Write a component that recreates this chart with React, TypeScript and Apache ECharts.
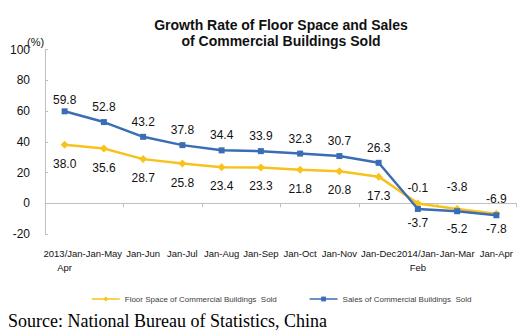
import React, { useEffect, useRef } from "react";
import * as echarts from "echarts";

const categories = [
  "2013/Jan-\nApr",
  "Jan-May",
  "Jan-Jun",
  "Jan-Jul",
  "Jan-Aug",
  "Jan-Sep",
  "Jan-Oct",
  "Jan-Nov",
  "Jan-Dec",
  "2014/Jan-\nFeb",
  "Jan-Mar",
  "Jan-Apr",
];
const floorSpace = [38.0, 35.6, 28.7, 25.8, 23.4, 23.3, 21.8, 20.8, 17.3, -0.1, -3.8, -6.9];
const sales = [59.8, 52.8, 43.2, 37.8, 34.4, 33.9, 32.3, 30.7, 26.3, -3.7, -5.2, -7.8];
const yTicks = { min: -20, max: 100, interval: 20 };
const seriesNames = [
  "Floor Space of Commercial Buildings  Sold",
  "Sales of Commercial Buildings  Sold",
];
const titleText = "Growth Rate of Floor Space and Sales\nof Commercial Buildings Sold";
const sourceText = "Source: National Bureau of Statistics, China";

const YELLOW = "#F8C21C";
const BLUE = "#3A6DB5";
const labelFont = "Arial, 'Liberation Sans', sans-serif";

export default function App() {
  const ref = useRef<HTMLDivElement>(null);
  useEffect(() => {
    document.body.style.margin = "0";
    if (!ref.current) return;
    const chart = echarts.init(ref.current, undefined, { renderer: "svg" });

    const floorData = floorSpace.map((v, i) => {
      const above = v < 0;
      return {
        value: v,
        label: {
          position: above ? "top" : "bottom",
          distance: above ? (i === 10 ? 12 : 5) : 9,
        },
      };
    });
    const salesData = sales.map((v, i) => {
      const below = v < 0;
      return {
        value: v,
        label: {
          position: below ? "bottom" : "top",
          distance: below ? (i === 10 ? 9 : 5) : i === 0 ? 2 : 6,
        },
      };
    });

    chart.setOption({
      animation: false,
      backgroundColor: "#ffffff",
      title: {
        text: titleText,
        left: 276,
        textAlign: "center",
        top: 12,
        textStyle: {
          fontFamily: labelFont,
          fontSize: 14,
          fontWeight: "bold",
          color: "#111",
          lineHeight: 16,
        },
      },
      legend: {
        top: 290,
        left: 86,
        itemWidth: 28,
        itemHeight: 6,
        itemGap: 32,
        lineStyle: { width: 1.5 },
        textStyle: { fontFamily: labelFont, fontSize: 8, color: "#404040" },
        data: seriesNames,
      },
      grid: { left: 45, right: 15, top: 49.5, bottom: 101, containLabel: false },
      xAxis: [
        {
          type: "category",
          data: categories,
          position: "bottom",
          boundaryGap: true,
          axisLine: { show: false, onZero: false },
          axisTick: { show: false },
          axisLabel: {
            interval: 0,
            margin: 12,
            fontFamily: labelFont,
            fontSize: 9.5,
            lineHeight: 14,
            color: "#111",
          },
        },
        {
          type: "category",
          data: categories,
          position: "top",
          boundaryGap: true,
          axisLine: { show: true, onZero: true, lineStyle: { color: "#c0c0c0", width: 1 } },
          axisTick: { show: true, inside: true, length: 4, lineStyle: { color: "#c0c0c0" } },
          axisLabel: { show: false },
        },
      ],
      yAxis: {
        type: "value",
        min: yTicks.min,
        max: yTicks.max,
        interval: yTicks.interval,
        axisLine: { show: true, lineStyle: { color: "#c0c0c0" } },
        axisTick: { show: true, inside: true, length: 3, lineStyle: { color: "#c0c0c0" } },
        splitLine: { show: false },
        axisLabel: { margin: 15, fontFamily: labelFont, fontSize: 12, color: "#111" },
      },
      graphic: [
        {
          type: "text",
          left: 27,
          top: 36,
          style: { text: "(%)", fontFamily: labelFont, fontSize: 11, fill: "#111" },
        },
        {
          type: "text",
          left: 8,
          top: 312,
          style: {
            text: sourceText,
            fontFamily: "'Liberation Serif', 'Times New Roman', serif",
            fontSize: 18,
            fill: "#000",
          },
        },
      ],
      series: [
        {
          name: seriesNames[0],
          type: "line",
          xAxisIndex: 0,
          data: floorData,
          symbol: "diamond",
          symbolSize: 8,
          lineStyle: { color: YELLOW, width: 2.5 },
          itemStyle: { color: YELLOW },
          label: { show: true, fontFamily: labelFont, fontSize: 12, color: "#111", formatter: (p: any) => Number(p.value).toFixed(1) },
          z: 3,
        },
        {
          name: seriesNames[1],
          type: "line",
          xAxisIndex: 0,
          data: salesData,
          symbol: "rect",
          symbolSize: 6,
          lineStyle: { color: BLUE, width: 2.5 },
          itemStyle: { color: BLUE },
          label: { show: true, fontFamily: labelFont, fontSize: 12, color: "#111", formatter: (p: any) => Number(p.value).toFixed(1) },
          z: 4,
        },
      ],
    });
    return () => chart.dispose();
  }, []);
  return <div ref={ref} style={{ width: 531, height: 335 }} />;
}
